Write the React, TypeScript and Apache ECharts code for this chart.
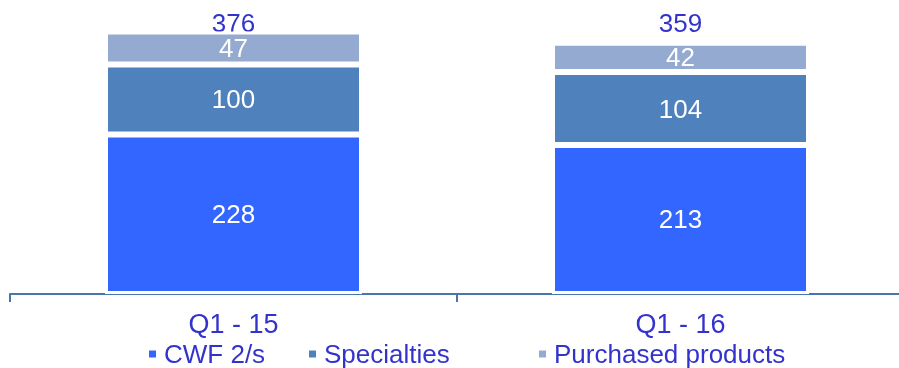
import React, { useEffect, useRef } from "react";
import * as echarts from "echarts";

const categories = ["Q1 - 15", "Q1 - 16"];
const cwf = [228, 213];
const specialties = [100, 104];
const purchased = [47, 42];
const totals = [376, 359];
const seriesNames = ["CWF 2/s", "Specialties", "Purchased products"];

const TEXT_BLUE = "#3333CC";
const FONT = "Liberation Sans, Arial, sans-serif";

export default function App() {
  const ref = useRef<HTMLDivElement>(null);
  useEffect(() => {
    if (!ref.current) return;
    const chart = echarts.init(ref.current, undefined, { renderer: "svg" });
    const segLabel = {
      show: true,
      position: "inside",
      color: "#FFFFFF",
      fontSize: 26,
      lineHeight: 22,
      fontFamily: FONT,
    };
    const border = { borderColor: "#FFFFFF", borderWidth: 3 };
    const mkLegend = (name: string, left: number) => ({
      data: [name],
      left,
      top: 341,
      padding: 0,
      icon: "rect",
      itemWidth: 9,
      itemHeight: 9,
      selectedMode: false,
      textStyle: {
        color: TEXT_BLUE,
        fontSize: 26,
        fontFamily: FONT,
        padding: [0, 0, 0, 2],
      },
    });
    chart.setOption({
      animation: false,
      grid: {
        left: 10,
        width: 894,
        top: 14,
        bottom: 74,
        containLabel: false,
        outerBoundsMode: "none",
      },
      legend: [
        mkLegend(seriesNames[0], 147),
        mkLegend(seriesNames[1], 307),
        mkLegend(seriesNames[2], 537),
      ],
      xAxis: [
        {
          type: "category",
          data: categories,
          axisLine: { show: true, lineStyle: { color: "#4A74AC", width: 2 } },
          axisTick: { show: true, length: 8, lineStyle: { color: "#4A74AC", width: 2 } },
          axisLabel: {
            color: TEXT_BLUE,
            fontSize: 27,
            fontFamily: FONT,
            margin: 16,
          },
        },
        {
          type: "category",
          data: categories,
          position: "top",
          axisLine: { show: false },
          axisTick: { show: false },
          splitLine: { show: false },
          axisLabel: {
            color: TEXT_BLUE,
            fontSize: 26,
            lineHeight: 20,
            fontFamily: FONT,
            verticalAlign: "middle",
            margin: -9,
            formatter: (_v: string, i: number) => String(totals[i]),
          },
        },
      ],
      yAxis: {
        type: "value",
        min: 0,
        max: 400,
        show: false,
        splitLine: { show: false },
      },
      series: [
        {
          name: seriesNames[0],
          type: "bar",
          stack: "s",
          barWidth: 257,
          data: cwf,
          itemStyle: { color: "#3366FF", ...border },
          label: segLabel,
        },
        {
          name: seriesNames[1],
          type: "bar",
          stack: "s",
          barWidth: 257,
          data: specialties,
          itemStyle: { color: "#4F81BD", ...border },
          label: segLabel,
        },
        {
          name: seriesNames[2],
          type: "bar",
          stack: "s",
          barWidth: 257,
          data: purchased,
          itemStyle: { color: "#95AAD0", ...border },
          label: segLabel,
        },
      ],
    });
    return () => chart.dispose();
  }, []);
  return (
    <div
      ref={ref}
      style={{ position: "fixed", left: 0, top: 0, width: 899, height: 368 }}
    />
  );
}
